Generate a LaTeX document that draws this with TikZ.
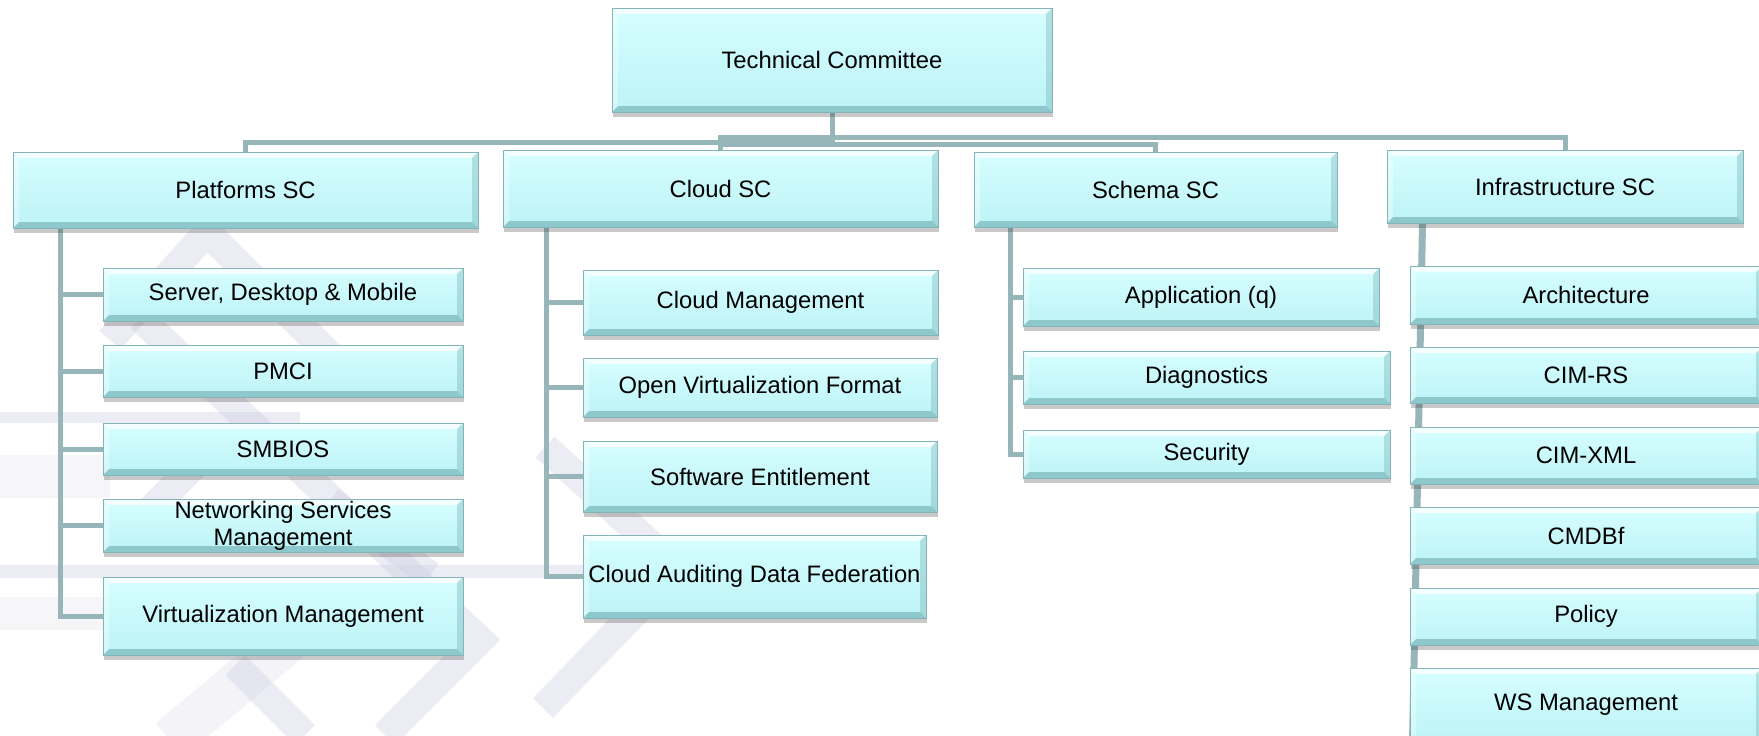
\documentclass[tikz,border=0pt]{standalone}
\usepackage{fontspec}
\setmainfont{Liberation Sans}
\usetikzlibrary{shadows,calc}
\pgfdeclarelayer{wmark}
\pgfdeclarelayer{lines}
\pgfsetlayers{wmark,lines,main}
\definecolor{boxtop}{HTML}{D6FEFF}
\definecolor{boxbot}{HTML}{BDF3F6}
\definecolor{boxline}{HTML}{86B3B7}
\definecolor{bevdark}{HTML}{5E9EA4}
\definecolor{connc}{HTML}{97B6BA}
\definecolor{wmc}{HTML}{CFCFE3}
\newcommand{\boxfont}{\fontsize{11.9pt}{13.4pt}\selectfont}
\def\bv{3pt}
\tikzset{
  box/.style={rectangle, draw=boxline, line width=0.5pt, top color=boxtop, bottom color=boxbot,
    inner sep=0pt, align=center, font=\boxfont,
    drop shadow={shadow xshift=0.6pt, shadow yshift=-2.6pt, opacity=0.28, fill=black!75},
    path picture={
      \coordinate (ppNW) at (path picture bounding box.north west);
      \coordinate (ppNE) at (path picture bounding box.north east);
      \coordinate (ppSW) at (path picture bounding box.south west);
      \coordinate (ppSE) at (path picture bounding box.south east);
      \fill[white,opacity=0.75] (ppNW) -- (ppNE) -- ([shift={(-\bv,-\bv)}]ppNE) -- ([shift={(\bv,-\bv)}]ppNW) -- cycle;
      \fill[white,opacity=0.35] (ppNW) -- ([shift={(\bv,-\bv)}]ppNW) -- ([shift={(\bv,\bv)}]ppSW) -- (ppSW) -- cycle;
      \fill[bevdark,opacity=0.30] (ppNE) -- (ppSE) -- ([shift={(-\bv,\bv)}]ppSE) -- ([shift={(-\bv,-\bv)}]ppNE) -- cycle;
      \fill[bevdark,opacity=0.50] (ppSW) -- (ppSE) -- ([shift={(-\bv,\bv)}]ppSE) -- ([shift={(\bv,\bv)}]ppSW) -- cycle;
    }},
  conn/.style={draw=connc, line width=2.5pt},
  wstrip/.style={draw=wmc, line width=14pt, opacity=0.38},
  wband/.style={fill=wmc, opacity=0.38},
  wlight/.style={fill=wmc, opacity=0.18}
}
\newcommand{\mkbox}[6]{\node[box, minimum width={(#4-#2)*0.5pt}, minimum height={(#5-#3)*0.5pt}] (#1) at ({(#2+#4)/2},{(#3+#5)/2}) {#6};}
\begin{document}
\begin{tikzpicture}[x=0.5pt,y=-0.5pt]
\useasboundingbox (0,0) rectangle (1759,735);
\begin{pgfonlayer}{wmark}
  \fill[white] (0,0) rectangle (1759,735);
  % watermark bands
  \path[wband] (0,412) rectangle (300,423);
  \path[wlight] (0,455) rectangle (110,498);
  \path[wband] (0,565) rectangle (585,578);
  \path[wlight] (0,597) rectangle (110,630);
  % watermark strips
  \draw[wstrip] (110,340) -- (207,232) -- (330,355);
  \draw[wstrip] (140,318) -- (480,640) -- (385,735);
  \draw[wstrip] (120,540) -- (200,460);
  \draw[wstrip] (330,500) -- (430,575);
  \draw[wstrip] (235,665) -- (305,735);
  \draw[wstrip, line width=22pt, opacity=0.22] (170,740) -- (295,635);
  \draw[wstrip] (543,708) -- (655,592);
  \draw[wstrip] (545,447) -- (655,548);
\end{pgfonlayer}
% top level
\mkbox{tc}{612}{8}{1052}{112}{Technical Committee}
% second level
\mkbox{plat}{13}{152}{478}{228}{Platforms SC}
\mkbox{cloud}{503}{150}{938}{227}{Cloud SC}
\mkbox{schema}{974}{152}{1337}{227}{Schema SC}
\mkbox{infra}{1387}{150}{1743}{223}{Infrastructure SC}
% Platforms children
\mkbox{p1}{103}{268}{463}{321}{Server, Desktop \& Mobile}
\mkbox{p2}{103}{345}{463}{397}{PMCI}
\mkbox{p3}{103}{423}{463}{475}{SMBIOS}
\mkbox{p4}{103}{499}{463}{552}{Networking Services\\Management}
\mkbox{p5}{103}{577}{463}{655}{Virtualization Management}
% Cloud children
\mkbox{c1}{583}{270}{938}{335}{Cloud Management}
\mkbox{c2}{583}{358}{937}{417}{Open Virtualization Format}
\mkbox{c3}{583}{441}{937}{512}{Software Entitlement}
\mkbox{c4}{583}{535}{926}{618}{Cloud Auditing Data Federation}
% Schema children
\mkbox{s1}{1023}{268}{1379}{326}{Application (q)}
\mkbox{s2}{1023}{351}{1390}{404}{Diagnostics}
\mkbox{s3}{1023}{430}{1390}{478}{Security}
% Infrastructure children
\mkbox{i1}{1410}{266}{1762}{324}{Architecture}
\mkbox{i2}{1410}{347}{1762}{403}{CIM-RS}
\mkbox{i3}{1410}{427}{1762}{484}{CIM-XML}
\mkbox{i4}{1410}{507}{1762}{564}{CMDBf}
\mkbox{i5}{1410}{588}{1762}{645}{Policy}
\mkbox{i6}{1410}{668}{1762}{742}{WS Management}
% connectors
\coordinate (yA) at (0,137);
\coordinate (yB) at (0,142);
\coordinate (yC) at (0,144);
\coordinate (pv) at ([xshift=24pt]plat.south west);
\coordinate (cv) at ([xshift=22pt]cloud.south west);
\coordinate (sv) at ([xshift=18.5pt]schema.south west);
\coordinate (iv) at ([xshift=18pt]infra.south west);
\coordinate (ive) at ([xshift=1.5pt]i6.south west);
\begin{pgfonlayer}{lines}
  \draw[conn] (tc.south) -- (tc.south |- yB);
  \draw[conn] (cloud.north) -- (cloud.north |- yA) -- (infra.north |- yA) -- (infra.north);
  \draw[conn] (tc.south |- yB) -- (plat.north |- yB) -- (plat.north);
  \draw[conn] (cloud.north |- yC) -- (schema.north |- yC) -- (schema.north);
  \foreach \n in {p1,p2,p3,p4,p5} \draw[conn] (pv) |- (\n.west);
  \foreach \n in {c1,c2,c3,c4} \draw[conn] (cv) |- (\n.west);
  \foreach \n in {s1,s2,s3} \draw[conn] (sv) |- (\n.west);
  \draw[conn, line width=3.5pt] (iv) -- (ive);
\end{pgfonlayer}
\end{tikzpicture}
\end{document}
